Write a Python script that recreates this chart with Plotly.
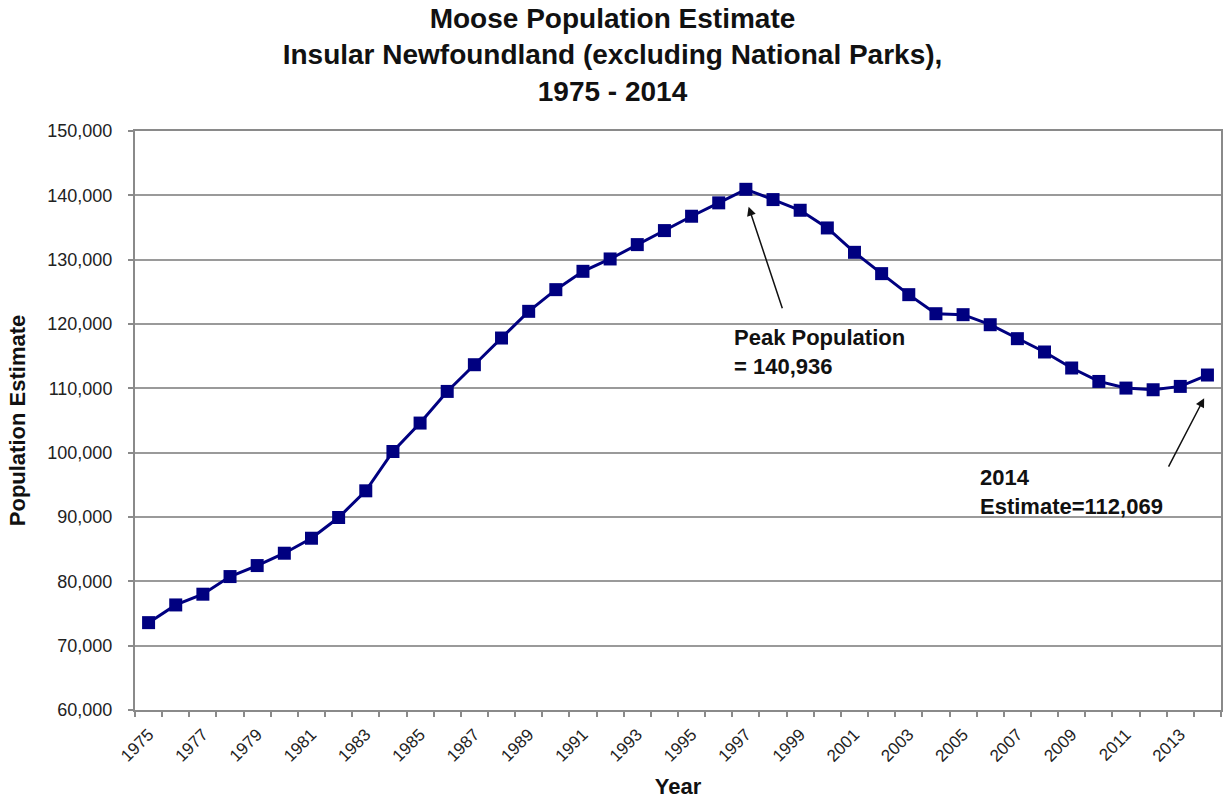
import plotly.graph_objects as go

# Moose population estimates, insular Newfoundland (excluding National Parks)
years = list(range(1975, 2015))
population = [
    73580, 76330, 78000, 80740, 82450, 84370, 86700, 89920, 94070, 100180,
    104600, 109520, 113670, 117820, 121970, 125340, 128190, 130110, 132340, 134520,
    136750, 138830, 140936, 139340, 137680, 134930, 131140, 127830, 124560, 121600,
    121450, 119890, 117720, 115650, 113160, 111070, 110040, 109780, 110300, 112069,
]
tick_years = list(range(1975, 2015, 2))
y_ticks = list(range(60000, 150001, 10000))

peak_idx = population.index(max(population))
peak_year, peak_value = years[peak_idx], population[peak_idx]
last_year, last_value = years[-1], population[-1]

NAVY = "#000080"
GRID = "#9a9a9a"
FRAME = "#8a8a8a"
FONT = "Liberation Sans, Arial, sans-serif"

fig = go.Figure()
fig.add_trace(go.Scatter(
    x=years, y=population, mode="lines+markers",
    line=dict(color=NAVY, width=3),
    marker=dict(symbol="square", size=13, color=NAVY),
    hoverinfo="x+y", showlegend=False,
))

fig.update_layout(
    width=1225, height=799,
    margin=dict(l=135, r=4, t=131, b=89),
    paper_bgcolor="white", plot_bgcolor="white",
    font=dict(family=FONT, color="#222222"),
    title=dict(
        text="<b>Moose Population Estimate<br>Insular Newfoundland (excluding National Parks),<br>1975 - 2014</b>",
        font=dict(size=28, color="#111111", family=FONT),
        x=0.5, xref="container", xanchor="center",
        y=0.965, yref="container", yanchor="top",
    ),
    xaxis=dict(
        range=[years[0] - 0.5, years[-1] + 0.5],
        tickmode="array", tickvals=tick_years, ticktext=[str(y) for y in tick_years],
        tickangle=-45, ticklen=0, tickfont=dict(size=17, color="#222222"),
        ticklabelstandoff=6,
        minor=dict(tickmode="linear", tick0=years[0] - 0.5, dtick=1,
                   ticks="outside", ticklen=5, tickcolor=FRAME, tickwidth=1.5,
                   showgrid=False),
        showgrid=False, zeroline=False, automargin=False,
        showline=True, linecolor=FRAME, linewidth=2, mirror=True,
        title=dict(text="<b>Year</b>", font=dict(size=22, color="#111111"), standoff=15),
        fixedrange=True,
    ),
    yaxis=dict(
        range=[60000, 150000],
        tickmode="array", tickvals=y_ticks, tickformat=",",
        ticks="outside", ticklen=5, tickcolor=FRAME, tickwidth=1.5,
        tickfont=dict(size=18, color="#222222"),
        ticklabelstandoff=12,
        showgrid=True, gridcolor=GRID, gridwidth=2,
        zeroline=False, automargin=False,
        showline=True, linecolor=FRAME, linewidth=2, mirror=True,
        title=dict(text="<b>Population Estimate</b>", font=dict(size=22, color="#111111"), standoff=16),
        fixedrange=True,
    ),
)

# Arrow and label for the peak year
fig.add_annotation(
    x=peak_year + 0.1, y=peak_value - 2700, xref="x", yref="y",
    ax=peak_year + 1.36, ay=122200, axref="x", ayref="y",
    text="", showarrow=True, arrowhead=2, arrowsize=1.2, arrowwidth=1.5, arrowcolor="#111111",
)
fig.add_annotation(
    x=peak_year - 0.52, y=115600, xref="x", yref="y",
    text=f"<b>Peak Population<br>= {peak_value:,}</b>",
    showarrow=False, xanchor="left", yanchor="middle", align="left",
    font=dict(size=22, color="#111111"),
)

# Arrow and label for the latest estimate
fig.add_annotation(
    x=last_year - 0.12, y=last_value - 3600, xref="x", yref="y",
    ax=last_year - 1.46, ay=97600, axref="x", ayref="y",
    text="", showarrow=True, arrowhead=2, arrowsize=1.2, arrowwidth=1.5, arrowcolor="#111111",
)
fig.add_annotation(
    x=last_year - 8.44, y=93900, xref="x", yref="y",
    text=f"<b>{last_year}<br>Estimate={last_value:,}</b>",
    showarrow=False, xanchor="left", yanchor="middle", align="left",
    font=dict(size=22, color="#111111"),
)

fig.write_html("out.html")
